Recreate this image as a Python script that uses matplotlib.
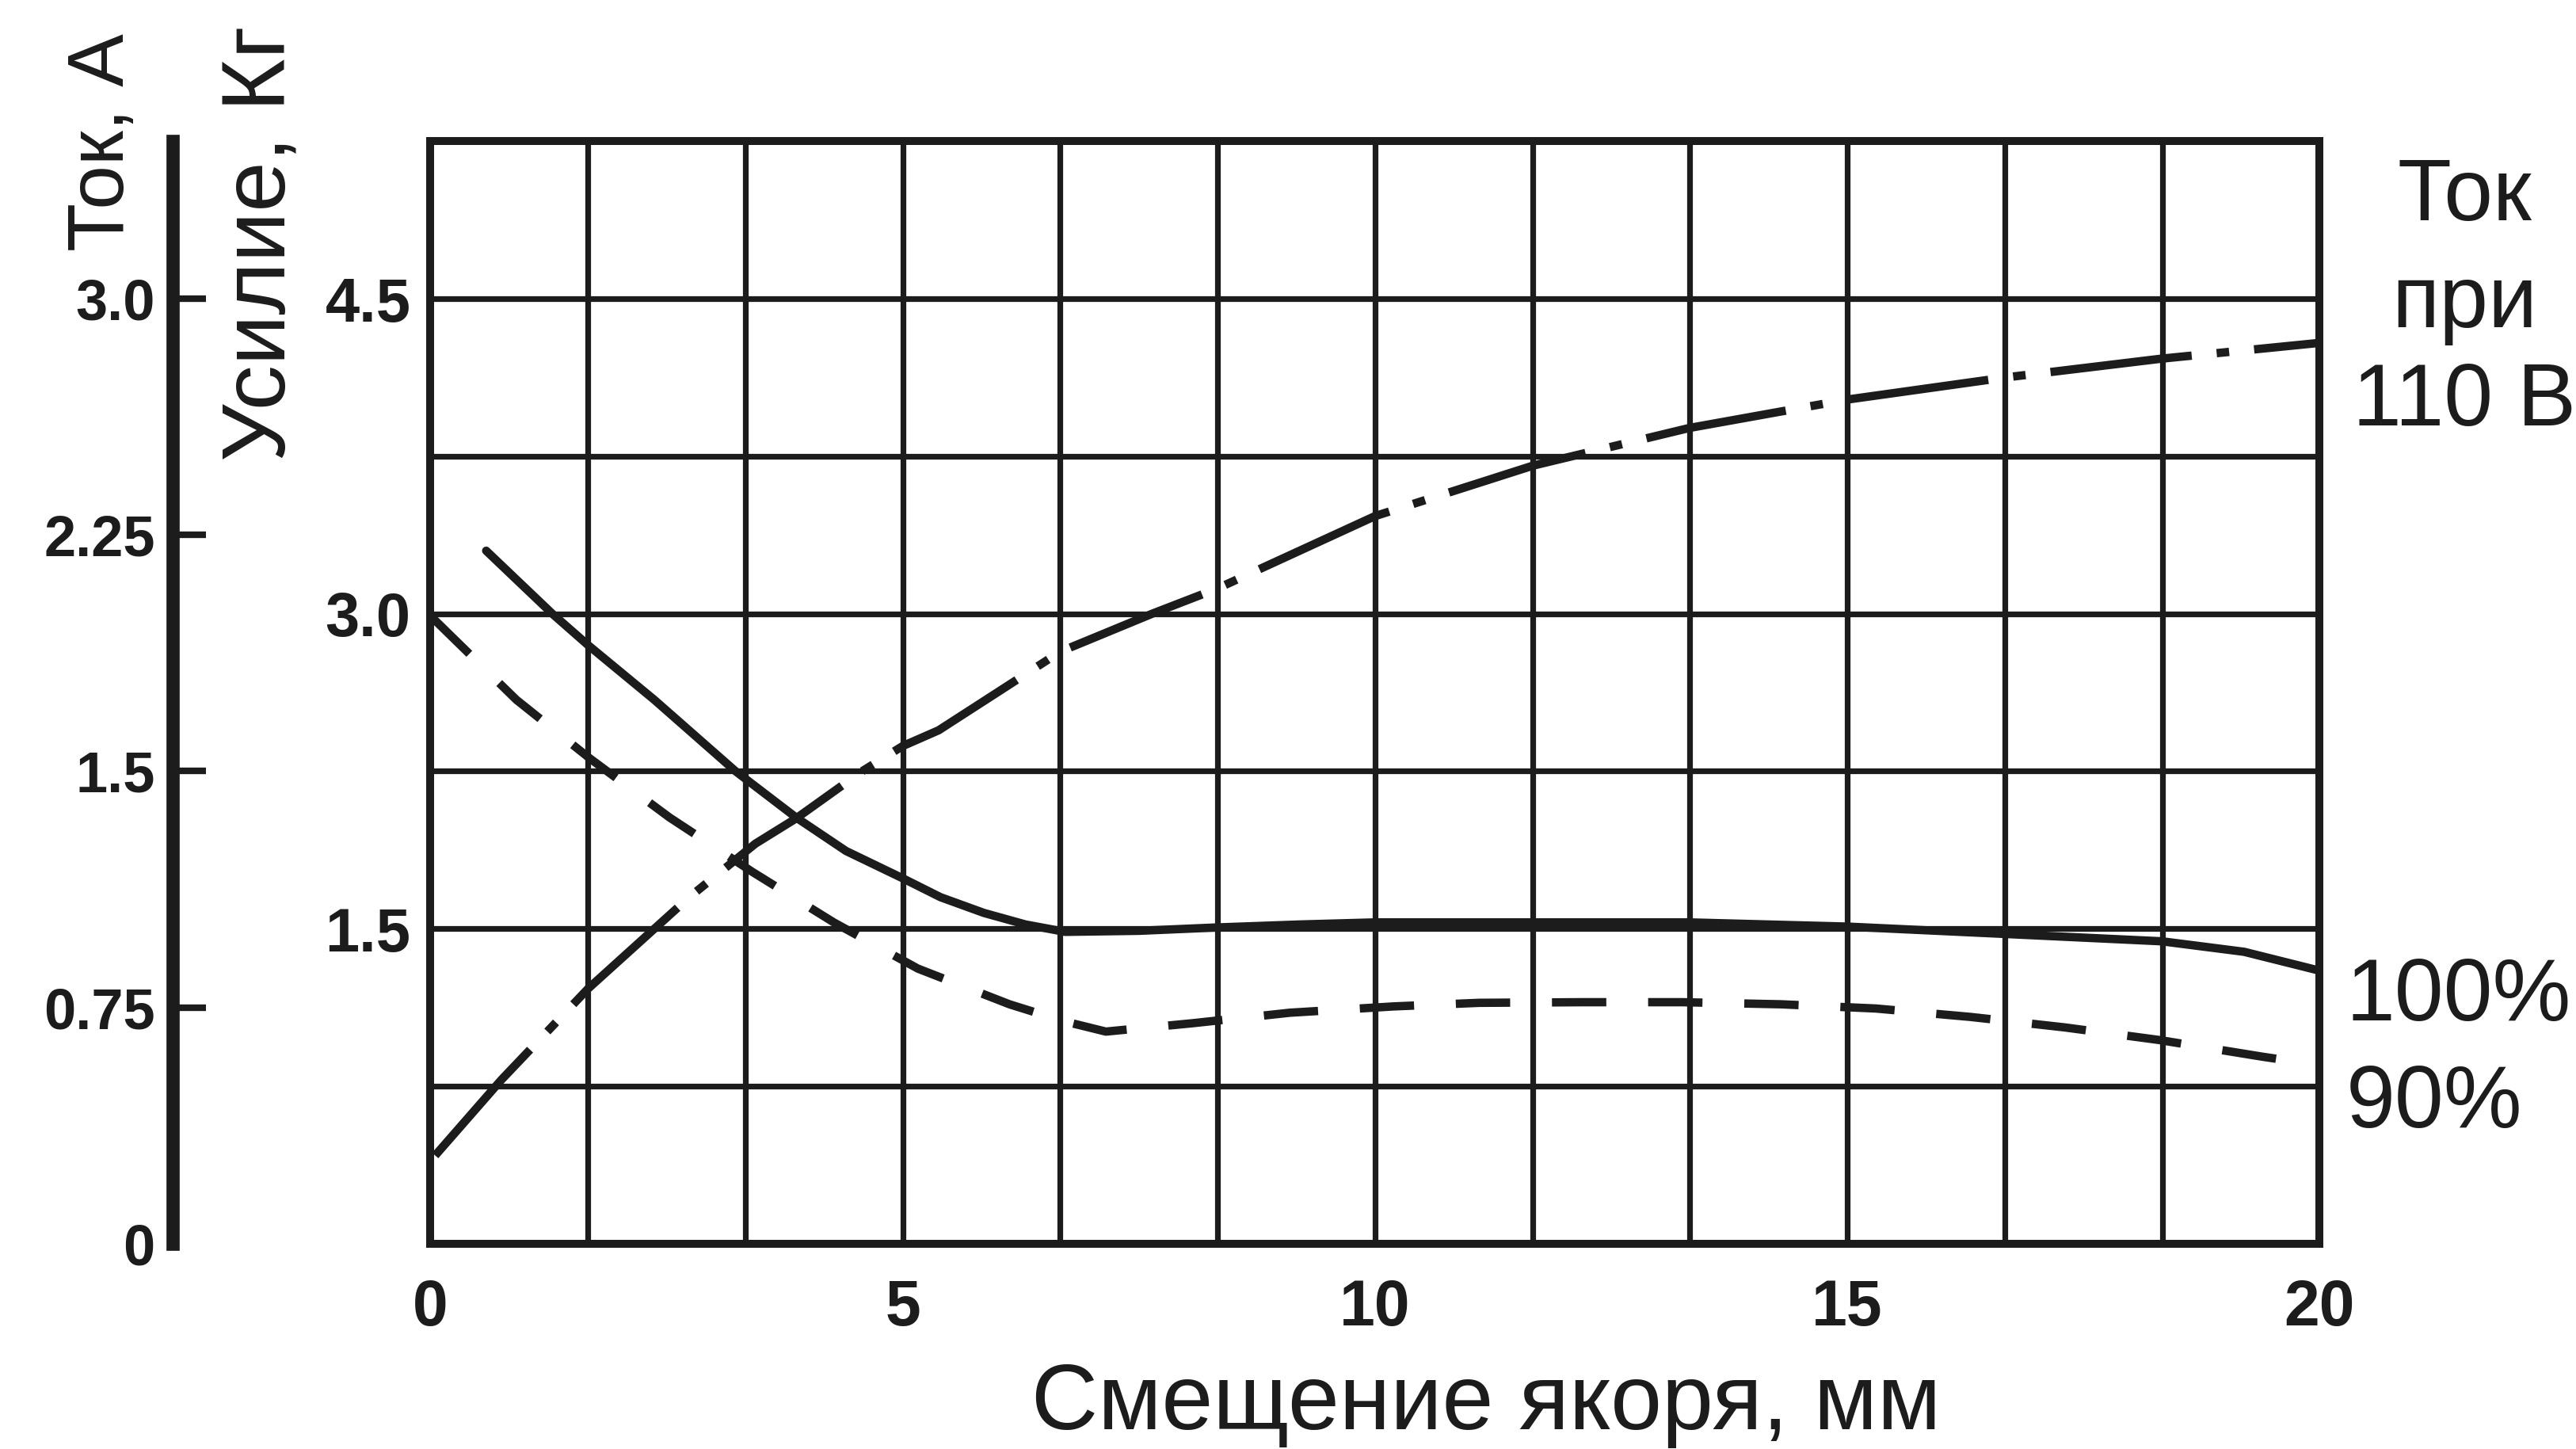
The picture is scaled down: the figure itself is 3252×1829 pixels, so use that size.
import matplotlib.pyplot as plt
import numpy as np

# displacement of the armature, mm / force, kg
x_force100 = [0.59, 1.29, 1.67, 2.37, 3.23, 3.87, 4.4, 5.0, 5.4, 5.86, 6.3, 6.72, 7.5, 8.33, 9.2, 10.0,
              11.67, 13.33, 15.0, 16.67, 18.33, 19.2, 20.0]
force100 = [3.30, 3.00, 2.85, 2.59, 2.25, 2.03, 1.87, 1.74, 1.65, 1.575, 1.52, 1.485, 1.49, 1.506, 1.52, 1.53,
            1.53, 1.53, 1.51, 1.475, 1.44, 1.39, 1.30]

x_force90 = [0.0, 0.91, 1.69, 2.53, 3.41, 4.27, 5.16, 6.13, 6.7, 7.15, 8.07, 9.1, 10.2, 11.1, 12.2, 13.25,
             14.3, 15.3, 16.3, 17.3, 18.3, 19.4, 20.0]
force90 = [2.99, 2.59, 2.31, 2.03, 1.77, 1.53, 1.31, 1.14, 1.06, 1.01, 1.05, 1.10, 1.13, 1.147, 1.15, 1.15,
           1.14, 1.12, 1.08, 1.03, 0.97, 0.89, 0.85]

# current at 110 V, A
x_current = [0.05, 0.75, 1.67, 2.74, 3.44, 3.87, 4.57, 5.0, 5.38, 6.0, 6.67, 7.64, 8.33, 10.0, 11.67,
             13.33, 15.0, 16.67, 18.33, 20.0]
current110 = [0.28, 0.52, 0.81, 1.10, 1.27, 1.35, 1.50, 1.58, 1.63, 1.75, 1.88, 2.00, 2.08, 2.31, 2.47,
              2.59, 2.68, 2.75, 2.81, 2.86]

x_ticks = [0, 5, 10, 15, 20]
force_ticks = [1.5, 3.0, 4.5]
current_ticks = [0, 0.75, 1.5, 2.25, 3.0]
current_labels = ['0', '0.75', '1.5', '2.25', '3.0']

ink = '#1c1c1c'
plt.rcParams['font.family'] = ['Liberation Sans', 'DejaVu Sans']

fig = plt.figure(figsize=(16.26, 9.145), dpi=200)
ax = fig.add_axes([0.1671, 0.1417, 0.9005 - 0.1671, 0.9025 - 0.1417])

ax.set_xlim(0, 20)
ax.set_ylim(0, 5.25)
ax.set_xticks(np.linspace(0, 20, 13), minor=True)
ax.set_yticks(np.linspace(0, 5.25, 8), minor=True)
ax.set_xticks(x_ticks)
ax.set_yticks(force_ticks)
ax.set_xticklabels([str(t) for t in x_ticks], fontsize=29, fontweight='bold', color=ink)
ax.set_yticklabels([str(t) for t in force_ticks], fontsize=28, fontweight='bold', color=ink)
ax.tick_params(which='both', length=0)
ax.tick_params(axis='x', pad=16)
ax.tick_params(axis='y', pad=9)
ax.grid(which='both', color=ink, linewidth=2.6)
for s in ax.spines.values():
    s.set_linewidth(3.6)
    s.set_color(ink)

ax.plot(x_force100, force100, color=ink, linewidth=3.8, solid_capstyle='round', solid_joinstyle='round')
ax.plot(x_force90, force90, color=ink, linewidth=3.8, dashes=(6.5, 5.0))

# current axis on the far left
axc = ax.twinx()
axc.set_ylim(0, 3.5)
axc.yaxis.set_ticks_position('left')
axc.spines['left'].set_position(('axes', -0.1365))
axc.spines['left'].set_linewidth(6)
axc.spines['left'].set_color(ink)
for side in ['right', 'top', 'bottom']:
    axc.spines[side].set_visible(False)
axc.set_yticks(current_ticks)
axc.set_yticklabels(current_labels, fontsize=26, fontweight='bold', color=ink)
axc.tick_params(axis='y', direction='in', length=15, width=3, pad=8, color=ink)
axc.yaxis.get_major_ticks()[0].tick1line.set_visible(False)
axc.plot(x_current, current110, color=ink, linewidth=3.8, dashes=(17, 3, 1.5, 3))

fig.text(0.577, 0.0306, 'Смещение якоря, мм', fontsize=42, ha='center', va='center', color=ink)
fig.text(0.040, 0.902, 'Ток, А', fontsize=36, rotation=90, ha='center', va='center', color=ink)
fig.text(0.102, 0.832, 'Усилие, Кг', fontsize=41, rotation=90, ha='center', va='center', color=ink)
fig.text(0.9566, 1 - 120 / 882, 'Ток', fontsize=40, ha='center', va='center', color=ink)
fig.text(0.9566, 1 - 185 / 882, 'при', fontsize=40, ha='center', va='center', color=ink)
fig.text(0.9566, 1 - 245 / 882, '110 В', fontsize=40, ha='center', va='center', color=ink)
fig.text(1428 / 1568, 1 - 607 / 882, '100%', fontsize=40, ha='left', va='center', color=ink)
fig.text(1428 / 1568, 1 - 672 / 882, '90%', fontsize=40, ha='left', va='center', color=ink)

fig.savefig('out.png', dpi=200, facecolor='white')
